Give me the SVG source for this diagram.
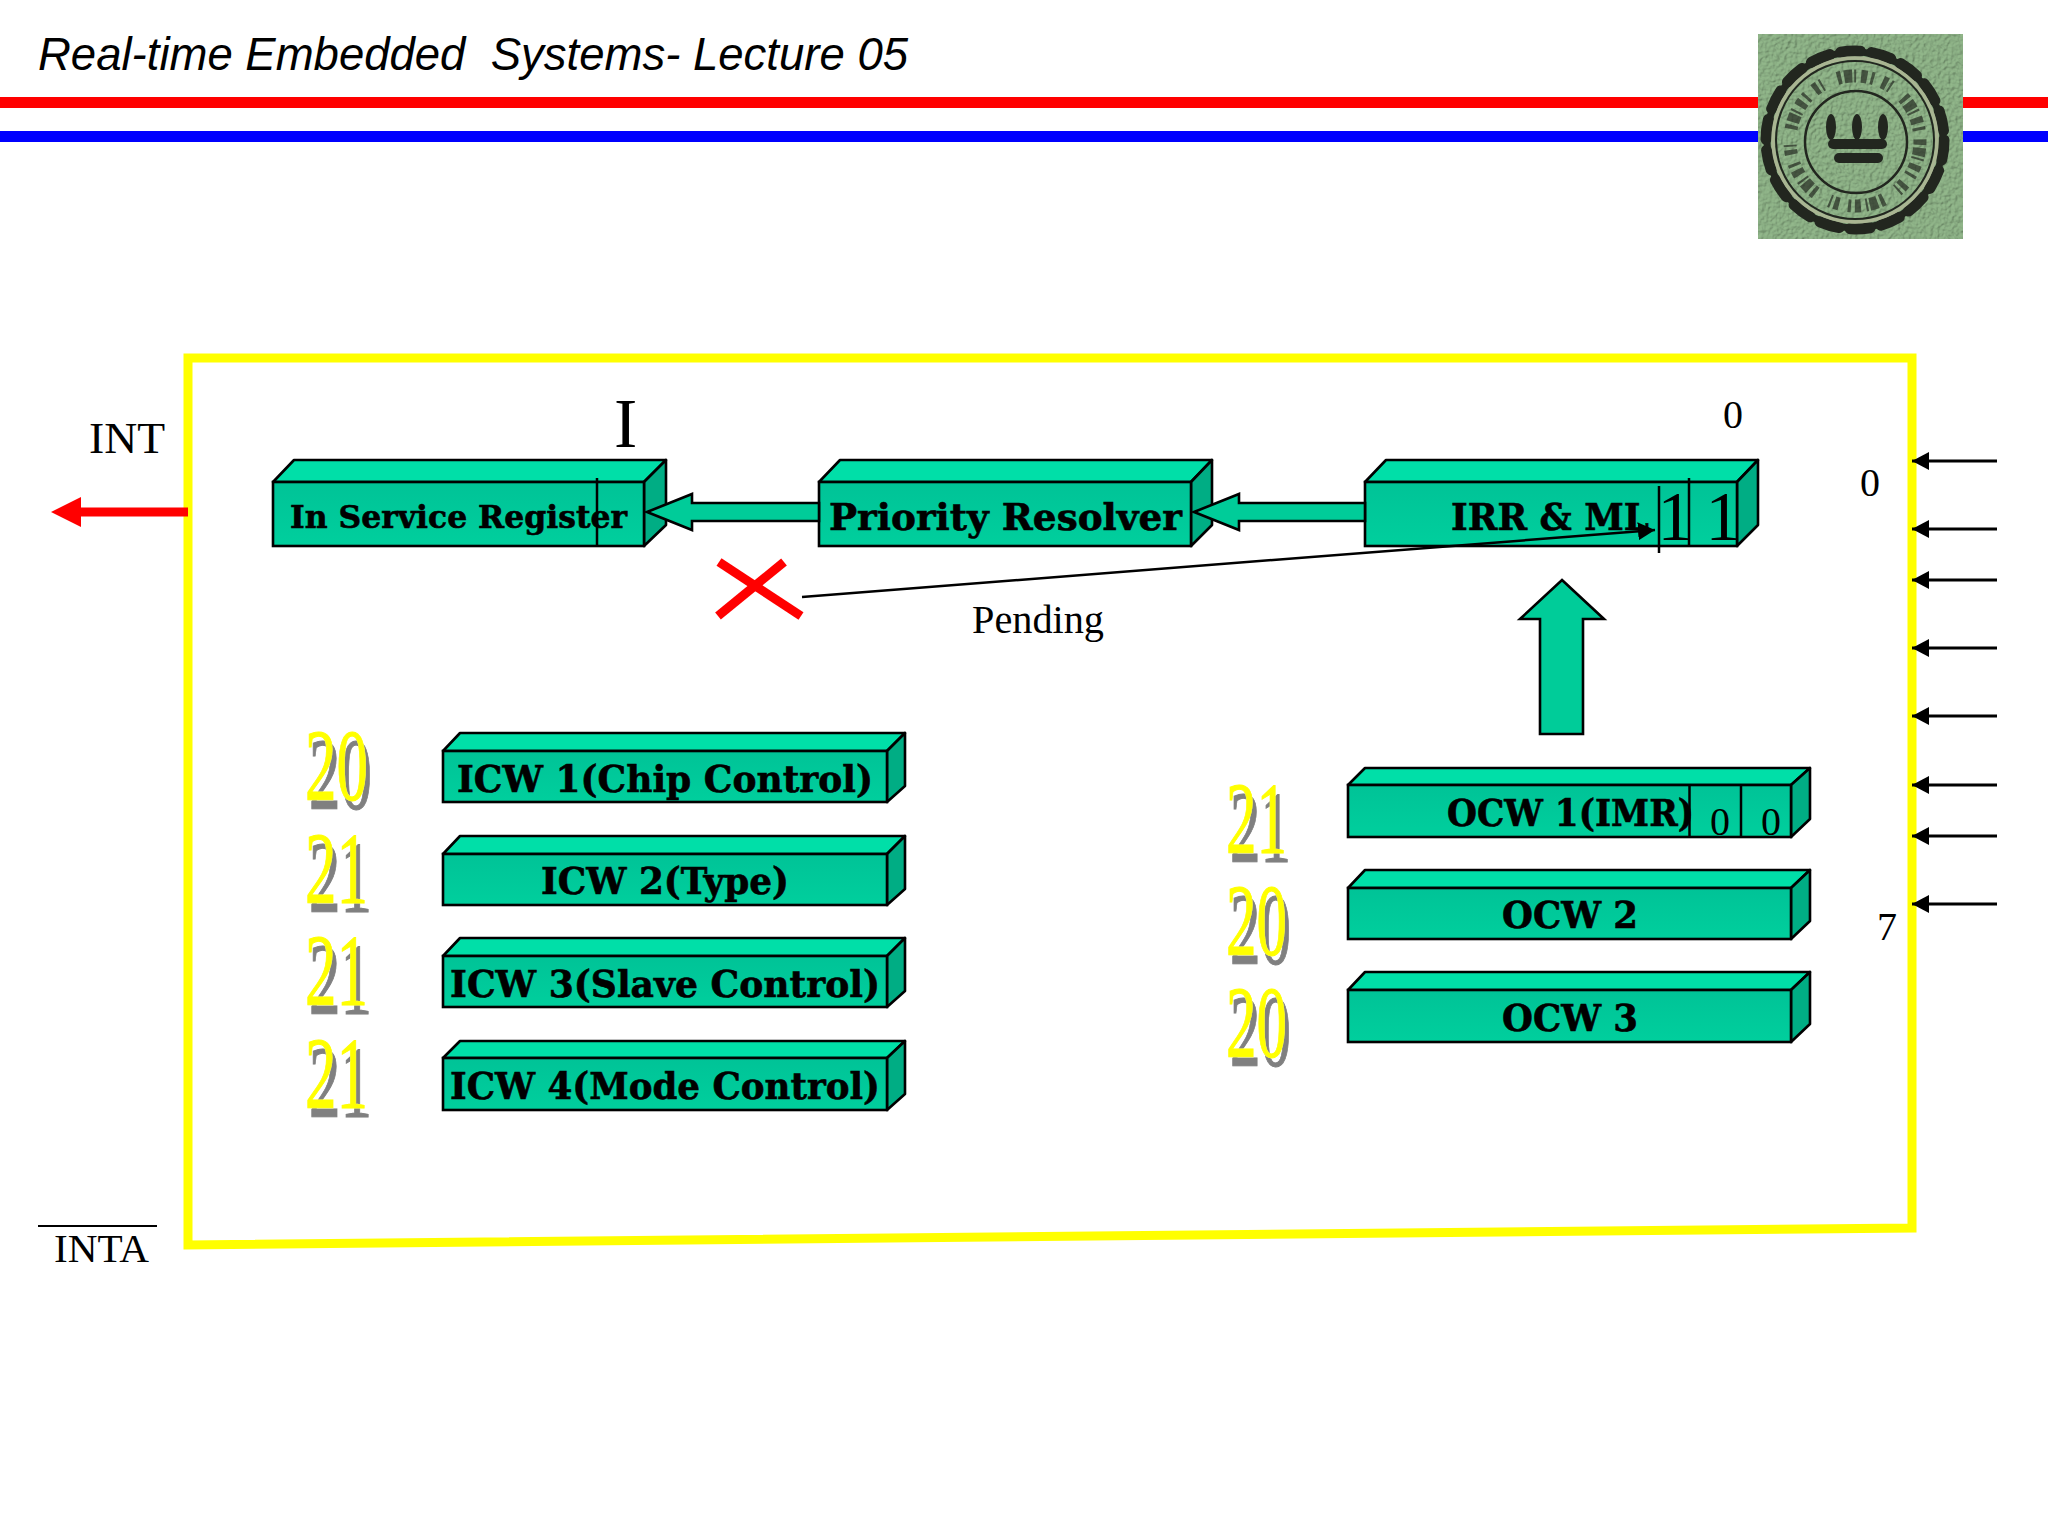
<svg xmlns="http://www.w3.org/2000/svg" width="2048" height="1536" viewBox="0 0 2048 1536">
<style>
.top{fill:#00dfa8;stroke:#000;stroke-width:2.6;stroke-linejoin:round}
.front{fill:url(#frontGrad);stroke:#000;stroke-width:2.6}
.side{fill:#00ad84;stroke:#000;stroke-width:2.6;stroke-linejoin:round}
.lbl{font-family:"DejaVu Serif","Liberation Serif",serif;font-weight:bold;fill:#000;stroke:#000;stroke-width:.6;font-size:37px}
.t{font-family:"Liberation Serif",serif;fill:#000;font-size:40px}
.big{font-family:"Liberation Serif",serif;font-size:70px;fill:#000}
.num{font-family:"Liberation Serif",serif;font-size:102px;fill:#ffff00;stroke:#ffff00;stroke-width:1}
.block{fill:#00cc99;stroke:#000;stroke-width:2.6;stroke-linejoin:miter}
.div{stroke:#000;stroke-width:2.5;fill:none}
.inp{stroke:#000;stroke-width:3;fill:none;marker-end:url(#ah)}
</style>
<defs>
<linearGradient id="frontGrad" x1="0" y1="0" x2="0" y2="1"><stop offset="0" stop-color="#00c397"/><stop offset="1" stop-color="#00cf9d"/></linearGradient>
<marker id="ah" markerUnits="userSpaceOnUse" markerWidth="20" markerHeight="20" refX="17" refY="9" orient="auto"><path d="M0 0L17 9L0 18Z" fill="#000"/></marker>
<filter id="paper" x="0" y="0" width="100%" height="100%"><feTurbulence type="fractalNoise" baseFrequency="0.28" numOctaves="2" seed="4" result="n"/><feDiffuseLighting in="n" surfaceScale="1.6" diffuseConstant="1.05" lighting-color="#8fb488" result="l"><feDistantLight azimuth="225" elevation="62"/></feDiffuseLighting></filter>
<filter id="shade" x="-20%" y="-20%" width="140%" height="140%"><feOffset in="SourceAlpha" dx="4" dy="9" result="o"/><feFlood flood-color="#808080"/><feComposite in2="o" operator="in" result="s"/><feMerge><feMergeNode in="s"/><feMergeNode in="SourceGraphic"/></feMerge></filter>
</defs>
<rect width="2048" height="1536" fill="#fff"/>

<g id="header">
<text x="38" y="70" xml:space="preserve" textLength="870" lengthAdjust="spacingAndGlyphs" style="font-family:'Liberation Sans',sans-serif;font-style:italic;font-size:46px;fill:#000">Real-time Embedded  Systems- Lecture 05</text>
<rect x="0" y="97" width="2048" height="11" fill="#ff0000"/>
<rect x="0" y="131" width="2048" height="11" fill="#0000ff"/>
</g>

<g id="logo">
<rect x="1758" y="34" width="205" height="205" fill="#8fb488" filter="url(#paper)"/>
<circle cx="1855" cy="140" r="88" fill="none" stroke="#22261f" stroke-width="7"/>
<circle cx="1855" cy="140" r="89" fill="none" stroke="#22261f" stroke-width="11" stroke-linecap="round" stroke-dasharray="20 11.100"/>
<circle cx="1855" cy="140" r="82" fill="none" stroke="#a9b592" stroke-width="3.500"/>
<circle cx="1855" cy="140" r="79" fill="none" stroke="#22261f" stroke-width="2"/>
<circle cx="1855" cy="141" r="65" fill="none" stroke="#22261f" stroke-width="13" stroke-dasharray="4 3 8 2 2 5 6 4 3 9 5 3 2 16" opacity=".68"/>
<circle cx="1856" cy="142" r="51" fill="none" stroke="#22261f" stroke-width="2.500"/>
<ellipse cx="1831" cy="127" rx="5" ry="13" fill="#22261f"/>
<ellipse cx="1857" cy="127" rx="5" ry="13" fill="#22261f"/>
<ellipse cx="1883" cy="127" rx="5" ry="13" fill="#22261f"/>
<rect x="1828" y="139" width="59" height="10" rx="5" fill="#22261f"/>
<rect x="1834" y="153" width="49" height="10" rx="5" fill="#22261f"/>
</g>

<g id="frame"><polygon points="188,358 1912,358 1912,1228 188,1245" fill="#fff" stroke="#ffff00" stroke-width="9"/></g>

<g id="isr">
<polygon class="top" points="273,482 294,460 666,460 644,482"/>
<polygon class="side" points="644,482 666,460 666,525 644,546"/>
<rect class="front" x="273" y="482" width="371" height="64"/>
<text class="lbl" x="290" y="528" textLength="337" lengthAdjust="spacingAndGlyphs" style="font-size:32px">In Service Register</text>
<line class="div" x1="597" y1="478" x2="597" y2="546"/>
<text class="big" x="614" y="447">I</text>
</g>

<g id="priority">
<polygon class="top" points="819,482 840,460 1212,460 1191,482"/>
<polygon class="side" points="1191,482 1212,460 1212,525 1191,546"/>
<rect class="front" x="819" y="482" width="372" height="64"/>
<text class="lbl" x="829" y="530" textLength="353" lengthAdjust="spacingAndGlyphs">Priority Resolver</text>
</g>

<g id="irr">
<polygon class="top" points="1365,482 1386,460 1758,460 1737,482"/>
<polygon class="side" points="1737,482 1758,460 1758,525 1737,546"/>
<rect class="front" x="1365" y="482" width="372" height="64"/>
<text class="lbl" x="1451" y="530" textLength="198" lengthAdjust="spacingAndGlyphs">IRR &amp; ML</text>
<line class="div" x1="1659" y1="486" x2="1659" y2="553"/>
<line class="div" x1="1689" y1="478" x2="1689" y2="546"/>
<text class="big" x="1675" y="540" text-anchor="middle">1</text>
<text class="big" x="1723" y="540" text-anchor="middle">1</text>
</g>

<g id="icw1">
<polygon class="top" points="443,751 460,733 905,733 887,751"/>
<polygon class="side" points="887,751 905,733 905,786 887,802"/>
<rect class="front" x="443" y="751" width="444" height="51"/>
<text class="lbl" x="457" y="792" textLength="416" lengthAdjust="spacingAndGlyphs">ICW 1(Chip Control)</text>
</g>
<g id="icw2">
<polygon class="top" points="443,854 460,836 905,836 887,854"/>
<polygon class="side" points="887,854 905,836 905,889 887,905"/>
<rect class="front" x="443" y="854" width="444" height="51"/>
<text class="lbl" x="541" y="894" textLength="248" lengthAdjust="spacingAndGlyphs">ICW 2(Type)</text>
</g>
<g id="icw3">
<polygon class="top" points="443,956 460,938 905,938 887,956"/>
<polygon class="side" points="887,956 905,938 905,991 887,1007"/>
<rect class="front" x="443" y="956" width="444" height="51"/>
<text class="lbl" x="450" y="997" textLength="430" lengthAdjust="spacingAndGlyphs">ICW 3(Slave Control)</text>
</g>
<g id="icw4">
<polygon class="top" points="443,1058 460,1041 905,1041 887,1058"/>
<polygon class="side" points="887,1058 905,1041 905,1094 887,1110"/>
<rect class="front" x="443" y="1058" width="444" height="52"/>
<text class="lbl" x="450" y="1099" textLength="430" lengthAdjust="spacingAndGlyphs">ICW 4(Mode Control)</text>
</g>

<g id="ocw1">
<polygon class="top" points="1348,785 1365,768 1810,768 1791,785"/>
<polygon class="side" points="1791,785 1810,768 1810,819 1791,837"/>
<rect class="front" x="1348" y="785" width="443" height="52"/>
<text class="lbl" x="1447" y="826" textLength="247" lengthAdjust="spacingAndGlyphs">OCW 1(IMR)</text>
<line class="div" x1="1689.500" y1="785" x2="1689.500" y2="837"/>
<line class="div" x1="1741" y1="785" x2="1741" y2="837"/>
<text class="t" x="1720" y="835" text-anchor="middle">0</text>
<text class="t" x="1771" y="835" text-anchor="middle">0</text>
</g>
<g id="ocw2">
<polygon class="top" points="1348,888 1365,870 1810,870 1791,888"/>
<polygon class="side" points="1791,888 1810,870 1810,921 1791,939"/>
<rect class="front" x="1348" y="888" width="443" height="51"/>
<text class="lbl" x="1502" y="928" textLength="136" lengthAdjust="spacingAndGlyphs">OCW 2</text>
</g>
<g id="ocw3">
<polygon class="top" points="1348,990 1365,972 1810,972 1791,990"/>
<polygon class="side" points="1791,990 1810,972 1810,1024 1791,1042"/>
<rect class="front" x="1348" y="990" width="443" height="52"/>
<text class="lbl" x="1502" y="1031" textLength="136" lengthAdjust="spacingAndGlyphs">OCW 3</text>
</g>

<g id="ports" filter="url(#shade)">
<text class="num" x="305" y="800" textLength="63" lengthAdjust="spacingAndGlyphs">20</text>
<text class="num" x="305" y="903" textLength="63" lengthAdjust="spacingAndGlyphs">21</text>
<text class="num" x="305" y="1005" textLength="63" lengthAdjust="spacingAndGlyphs">21</text>
<text class="num" x="305" y="1108" textLength="63" lengthAdjust="spacingAndGlyphs">21</text>
<text class="num" x="1226" y="853" textLength="61" lengthAdjust="spacingAndGlyphs">21</text>
<text class="num" x="1226" y="955" textLength="61" lengthAdjust="spacingAndGlyphs">20</text>
<text class="num" x="1226" y="1057" textLength="61" lengthAdjust="spacingAndGlyphs">20</text>
</g>

<g id="connectors">
<polygon class="block" points="647,512 692,494 692,503 819,503 819,521 692,521 692,530"/>
<polygon class="block" points="1194,512 1239,494 1239,503 1365,503 1365,521 1239,521 1239,530"/>
<polygon class="block" points="1562,580 1604,619 1583,619 1583,734 1540,734 1540,619 1520,619"/>
<line x1="802" y1="597" x2="1655" y2="530" stroke="#000" stroke-width="2.500" marker-end="url(#ah)"/>
<line x1="188" y1="512" x2="70" y2="512" stroke="#ff0000" stroke-width="9"/>
<polygon points="51,512 81,497 81,527" fill="#ff0000"/>
<line class="inp" x1="1997" y1="461" x2="1912" y2="461"/>
<line class="inp" x1="1997" y1="529" x2="1912" y2="529"/>
<line class="inp" x1="1997" y1="580" x2="1912" y2="580"/>
<line class="inp" x1="1997" y1="648" x2="1912" y2="648"/>
<line class="inp" x1="1997" y1="716" x2="1912" y2="716"/>
<line class="inp" x1="1997" y1="785" x2="1912" y2="785"/>
<line class="inp" x1="1997" y1="836" x2="1912" y2="836"/>
<line class="inp" x1="1997" y1="904" x2="1912" y2="904"/>
</g>

<g id="cross">
<line x1="719" y1="562" x2="801" y2="616" stroke="#ff0000" stroke-width="9"/>
<line x1="784" y1="562" x2="718" y2="616" stroke="#ff0000" stroke-width="9"/>
</g>

<g id="labels">
<text class="t" x="89" y="453" textLength="76" lengthAdjust="spacingAndGlyphs" style="font-size:44px">INT</text>
<text class="t" x="54" y="1262" textLength="95" lengthAdjust="spacingAndGlyphs">INTA</text>
<line x1="38" y1="1226" x2="157" y2="1226" stroke="#000" stroke-width="2"/>
<text class="t" x="972" y="633" textLength="132" lengthAdjust="spacingAndGlyphs">Pending</text>
<text class="t" x="1733" y="428" text-anchor="middle">0</text>
<text class="t" x="1870" y="496" text-anchor="middle">0</text>
<text class="t" x="1887" y="940" text-anchor="middle">7</text>
</g>
</svg>
